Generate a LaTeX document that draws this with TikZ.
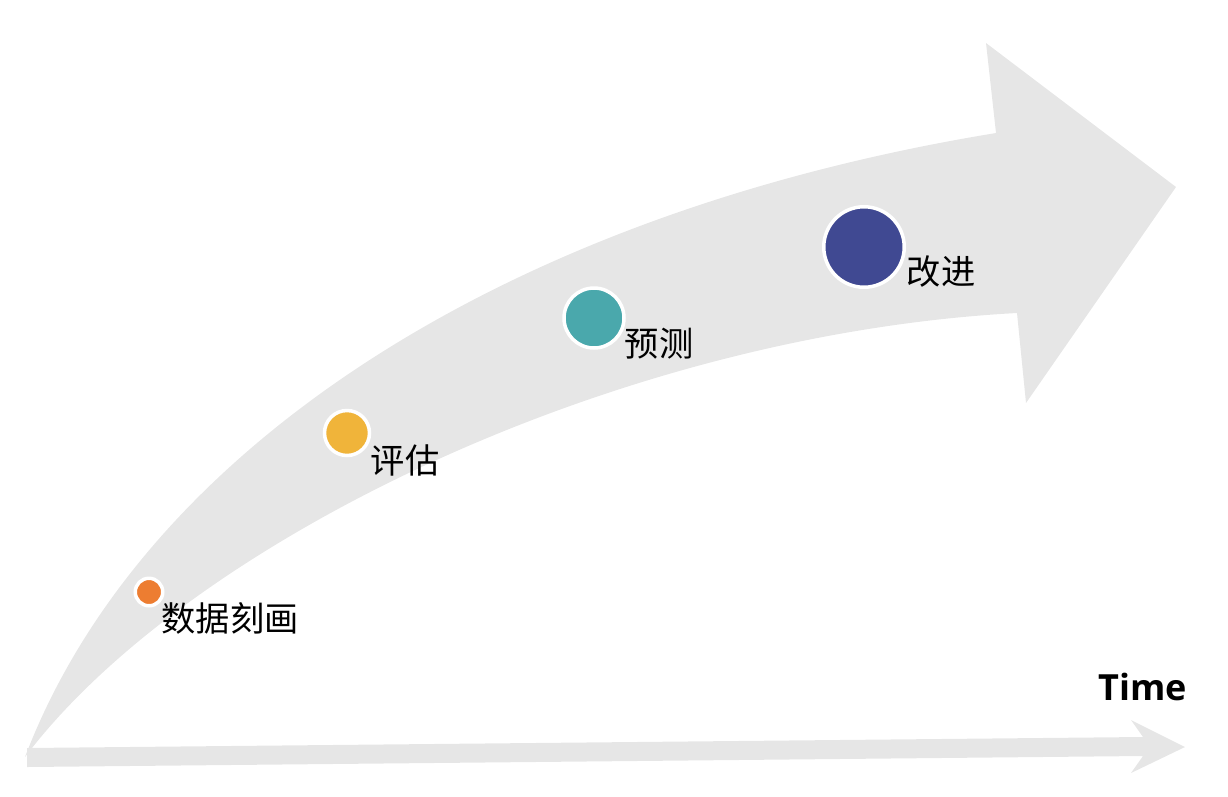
\documentclass[tikz,border=0pt]{standalone}
\usepackage{fontspec}
\usepackage{tikz}
\newfontfamily\cjk{Noto Sans CJK SC}
\newfontfamily\latin{Open Sans}
\definecolor{bandgray}{RGB}{230,230,230}
\definecolor{dotorange}{RGB}{237,125,49}
\definecolor{dotyellow}{RGB}{240,180,58}
\definecolor{dotteal}{RGB}{74,168,172}
\definecolor{dotnavy}{RGB}{64,73,146}

\begin{document}
\begin{tikzpicture}[x=0.02cm,y=-0.02cm,
  dot/.style={circle,draw=white,line width=0.07cm,inner sep=0pt},
  lbl/.style={inner sep=0pt,font=\cjk\fontsize{19.5}{22}\selectfont}]
  \useasboundingbox (0,0) rectangle (1228,796);
  % time axis
  \fill[bandgray](27,748)--(1143,737)--(1131,720)--(1185,747)--(1131,773)--(1143,756)--(27,767)--cycle;
  % curved arrow
  \fill[bandgray](25,757) .. controls (140,455) and (495,215) .. (996,133)
    --(986,43)--(1176,187)--(1026,403)--(1017,313)
    .. controls (610,335) and (185,545) .. (25,757)--cycle;
  \node[dot,fill=dotorange,minimum size=0.55cm] (d1) at (149,592){};
  \node[dot,fill=dotyellow,minimum size=0.9cm] (d2) at (347,433){};
  \node[dot,fill=dotteal,minimum size=1.2cm] (d3) at (594,318){};
  \node[dot,fill=dotnavy,minimum size=1.61cm] (d4) at (864,247){};
  \node[lbl] (l1) at (230,618){数据刻画};
  \node[lbl] (l2) at (405,460){评估};
  \node[lbl] (l3) at (659,344){预测};
  \node[lbl] (l4) at (941,272){改进};
  \node[inner sep=0pt,font=\latin\bfseries\fontsize{20.5}{24}\selectfont] (time) at (1143,687){Time};
\end{tikzpicture}
\end{document}
